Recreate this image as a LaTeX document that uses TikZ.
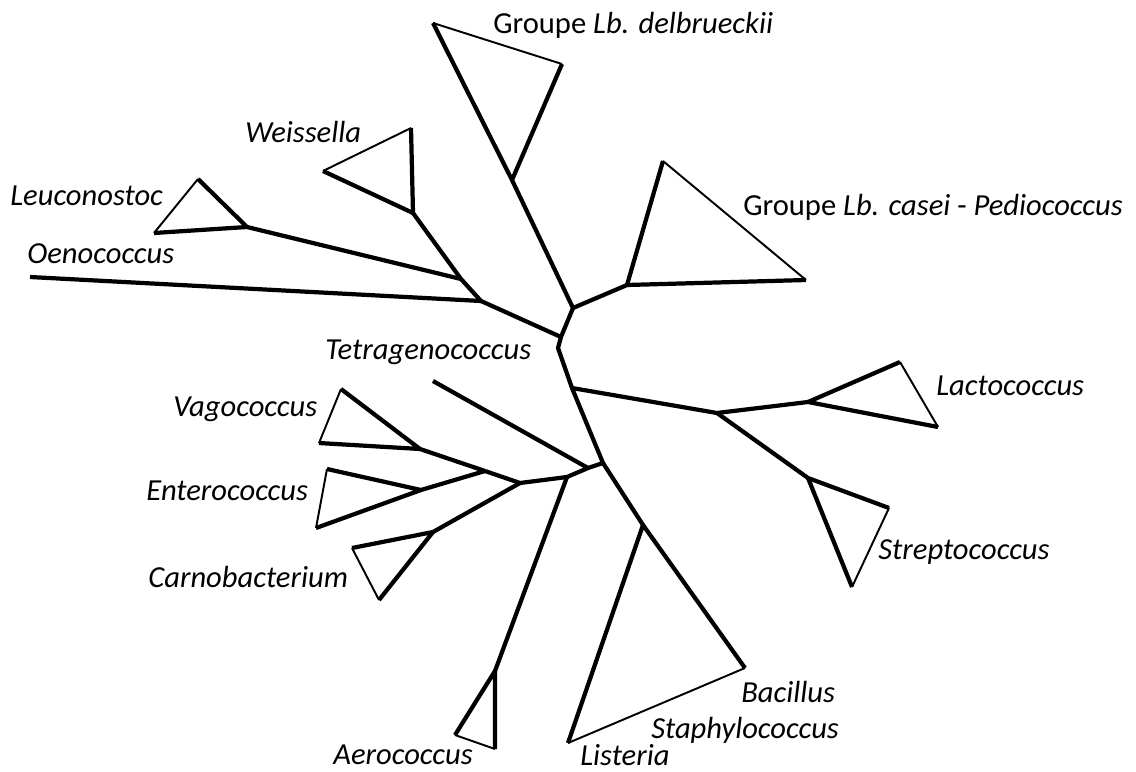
\documentclass[tikz,border=0pt]{standalone}
\usepackage{fontspec}
\setmainfont{Carlito}
\begin{document}
\begin{tikzpicture}[x=0.02cm,y=-0.02cm,line join=round,
  br/.style={line width=2.4pt},
  rim/.style={line width=1.1pt},
  lab/.style={anchor=base west,inner sep=0pt,font=\fontsize{17.4}{21}\selectfont\itshape}]
  \useasboundingbox (0,0) rectangle (1136,771);
  % inner joints
  \coordinate (r1) at (573,308);
  \coordinate (r0) at (561,337);
  \coordinate (k) at (558,348);
  \coordinate (r2) at (572,388);
  \coordinate (r3) at (603,463);
  \coordinate (u) at (481,301);
  \coordinate (w) at (461,279);
  \coordinate (l) at (717,413);
  \coordinate (t) at (588,468);
  \coordinate (a) at (567,477);
  \coordinate (e) at (520,483);
  \coordinate (ev) at (485,471);
  % clade nodes and tips
  \coordinate (d) at (512,180); \coordinate (d1) at (433,23); \coordinate (d2) at (562,64);
  \coordinate (c) at (627,285); \coordinate (c1) at (663,161); \coordinate (c2) at (806,280);
  \coordinate (we) at (413,213); \coordinate (we1) at (411,128); \coordinate (we2) at (323,171);
  \coordinate (le) at (247,227); \coordinate (le1) at (198,179); \coordinate (le2) at (154,233);
  \coordinate (oe) at (30,277);
  \coordinate (te) at (433,381);
  \coordinate (va) at (420,449); \coordinate (va1) at (341,389); \coordinate (va2) at (319,443);
  \coordinate (en) at (421,490); \coordinate (en1) at (327,469); \coordinate (en2) at (316,528);
  \coordinate (ca) at (433,532); \coordinate (ca1) at (352,548); \coordinate (ca2) at (379,600);
  \coordinate (ae) at (495,671); \coordinate (ae1) at (455,735); \coordinate (ae2) at (495,749);
  \coordinate (li) at (643,525); \coordinate (li1) at (745,668); \coordinate (li2) at (568,743);
  \coordinate (la) at (808,402); \coordinate (la1) at (900,362); \coordinate (la2) at (938,427);
  \coordinate (st) at (808,478); \coordinate (st1) at (889,508); \coordinate (st2) at (852,587);
  % backbone
  \draw[br] (r1) -- (r0) -- (k) -- (r2) -- (r3) -- (t) -- (a) -- (e) -- (ev);
  \draw[br] (r0) -- (u) -- (w) -- (we);
  \draw[br] (w) -- (le);
  \draw[br] (u) -- (oe);
  \draw[br] (r1) -- (d);
  \draw[br] (r1) -- (c);
  \draw[br] (r2) -- (l) -- (la);
  \draw[br] (l) -- (st);
  \draw[br] (r3) -- (li);
  \draw[br] (t) -- (te);
  \draw[br] (a) -- (ae);
  \draw[br] (ev) -- (va);
  \draw[br] (ev) -- (en);
  \draw[br] (e) -- (ca);
  % collapsed clades
  \foreach \n in {d,c,we,le,va,en,ca,ae,li,la,st} {
    \draw[br] (\n1) -- (\n) -- (\n2);
    \draw[rim] (\n1) -- (\n2);
  }
  % labels
  \node[lab] (ldel) at (493,33) {\upshape Groupe \itshape Lb. delbrueckii};
  \node[lab] (lcas) at (743,215) {\upshape Groupe \itshape Lb. casei \upshape- \itshape Pediococcus};
  \node[lab] (lwei) at (245,142) {Weissella};
  \node[lab] (lleu) at (10,205) {Leuconostoc};
  \node[lab] (loen) at (27,263) {Oenococcus};
  \node[lab] (ltet) at (325,359) {Tetragenococcus};
  \node[lab] (lvag) at (173,416) {Vagococcus};
  \node[lab] (lent) at (146,500) {Enterococcus};
  \node[lab] (lcar) at (148,587) {Carnobacterium};
  \node[lab] (llac) at (936,395) {Lactococcus};
  \node[lab] (lstr) at (878,559) {Streptococcus};
  \node[lab] (lbac) at (741,702) {Bacillus};
  \node[lab] (lsta) at (651,738) {Staphylococcus};
  \node[lab] (llis) at (580,765) {Listeria};
  \node[lab] (laer) at (333,764) {Aerococcus};
\end{tikzpicture}
\end{document}
